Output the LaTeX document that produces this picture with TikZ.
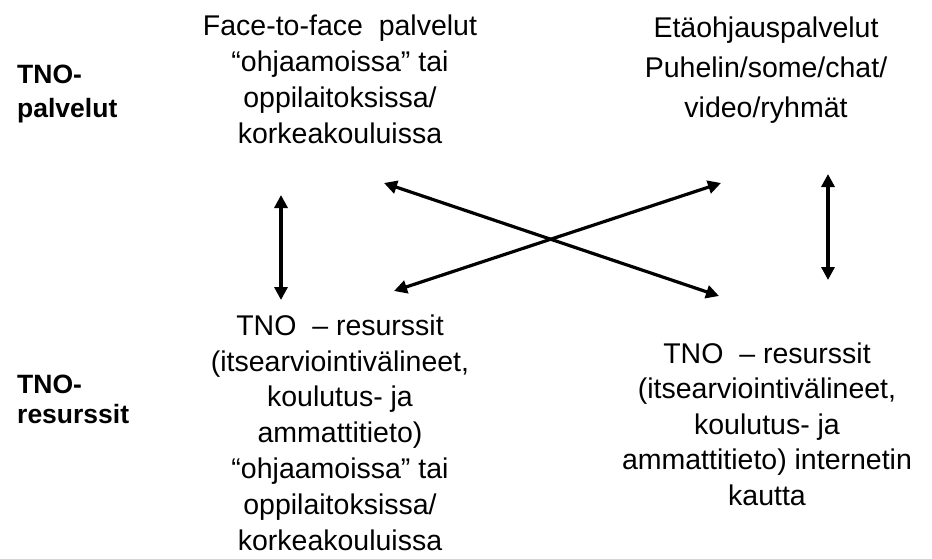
\documentclass[tikz,border=0pt]{standalone}
\usepackage{fontspec}
\setmainfont{Liberation Sans}
\usetikzlibrary{arrows.meta}
\tikzset{
  txt/.style={anchor=north, inner sep=0pt, align=center, text=black},
  lbl/.style={anchor=north west, inner sep=0pt, align=left, text=black},
  dbl/.style={line width=3.2pt, {Triangle[length=13pt,width=13pt]}-{Triangle[length=13pt,width=13pt]}}
}
\newcommand{\tl}{\rule{0pt}{26pt}}
\begin{document}
\begin{tikzpicture}[x=1pt,y=-1pt]
\useasboundingbox (0,0) rectangle (932,559);
\fill[white] (0,0) rectangle (932,559);
% row labels
\node[lbl, font=\fontsize{26.5}{34}\selectfont\bfseries] (lp) at (17,57) {\tl TNO-\\palvelut};
\node[lbl, font=\fontsize{26.5}{30}\selectfont\bfseries] (lr) at (17,367) {\tl TNO-\\resurssit};
% text blocks
\node[txt, font=\fontsize{28.5}{36}\selectfont] (ff) at (340,9)
  {\tl Face-to-face\ \ palvelut\\“ohjaamoissa”\ tai\\oppilaitoksissa/\\korkeakouluissa};
\node[txt, font=\fontsize{28.5}{40}\selectfont] (eo) at (766,11)
  {\tl Etäohjauspalvelut\\Puhelin/some/chat/\\video/ryhmät};
\node[txt, font=\fontsize{28.5}{35.8}\selectfont] (rl) at (340,309)
  {\tl TNO\ \ – resurssit\\(itsearviointivälineet,\\koulutus- ja\\ammattitieto)\\“ohjaamoissa”\ tai\\oppilaitoksissa/\\korkeakouluissa};
\node[txt, font=\fontsize{28.5}{35.5}\selectfont] (rr) at (767,337)
  {\tl TNO\ \ – resurssit\\(itsearviointivälineet,\\koulutus- ja\\ammattitieto) internetin\\kautta};
% arrow end points
\coordinate (a1) at (281,195);
\coordinate (a2) at (281,300);
\coordinate (b1) at (828,174);
\coordinate (b2) at (828,280);
\coordinate (c1) at (384,183);
\coordinate (c2) at (719,296);
\coordinate (d1) at (394,291);
\coordinate (d2) at (721,183);
\draw[dbl] (a1) -- (a2);
\draw[dbl] (b1) -- (b2);
\draw[dbl] (c1) -- (c2);
\draw[dbl] (d1) -- (d2);
\end{tikzpicture}
\end{document}
